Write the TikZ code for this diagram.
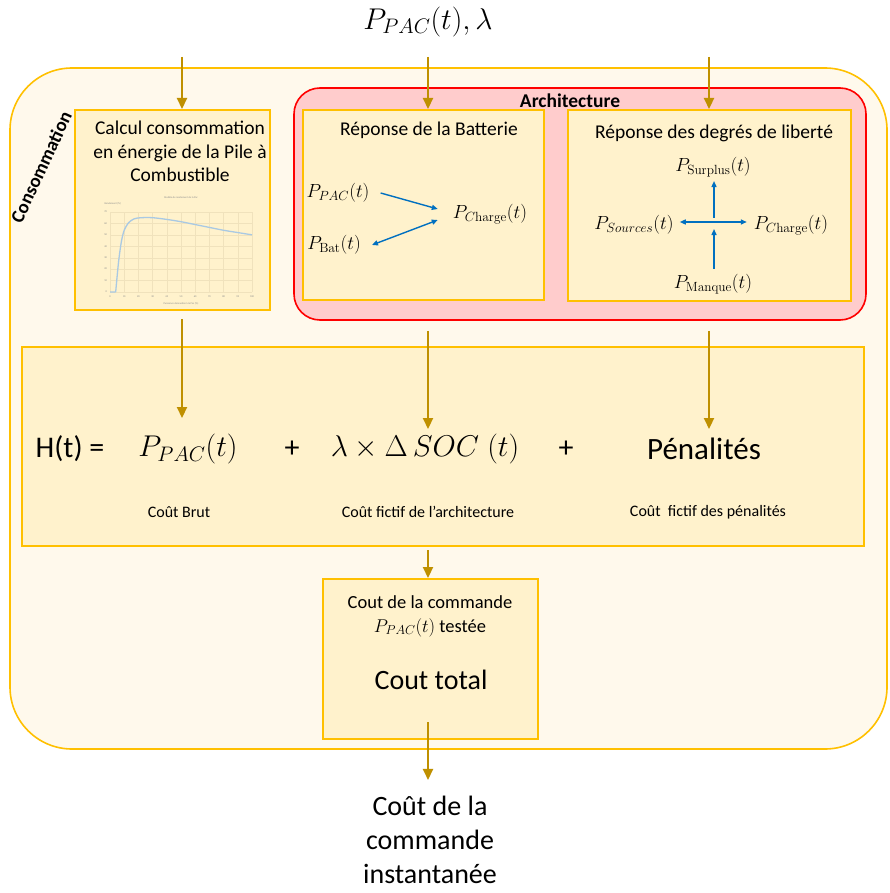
\RequirePackage{fix-cm}
\documentclass[tikz,border=0pt]{standalone}
\usepackage[no-math]{fontspec}
\setmainfont{Carlito}
\usetikzlibrary{positioning, arrows.meta, calc}
\definecolor{gold}{HTML}{FFC000}
\definecolor{flowc}{HTML}{BF9000}
\definecolor{cream}{HTML}{FFF9EC}
\definecolor{boxfill}{HTML}{FFF2CC}
\definecolor{archfill}{HTML}{FFCCCC}
\definecolor{archred}{HTML}{FF0000}
\definecolor{arrblue}{HTML}{0070C0}
\definecolor{curveb}{HTML}{A9C9E3}
\definecolor{gridc}{HTML}{F0E2BC}
\newcommand{\fs}[2]{\fontsize{#1}{#2}\selectfont}
\tikzset{
  % --- containers ---
  conso/.style   = {draw=gold, fill=cream, line width=1.6pt,
                    rounded corners=62pt, inner sep=0pt},
  archbox/.style = {draw=archred, fill=archfill, line width=1.6pt,
                    rounded corners=26pt, inner sep=0pt},
  block/.style   = {draw=gold, fill=boxfill, line width=2pt, inner sep=0pt},
  % --- texts ---
  title/.style   = {font=\fs{19.5}{23.5}, align=center, inner sep=0pt},
  mth/.style     = {font=\fs{19}{22}, inner sep=0pt},
  big/.style     = {font=\fs{30}{34}, inner sep=0pt},
  sub/.style     = {font=\fs{16}{18}, inner sep=0pt},
  tiny/.style    = {font=\fs{2.6}{3}, text=black!45, inner sep=0pt},
  % --- edges ---
  flow/.style    = {-{Triangle[length=11pt, width=10pt]}, line width=2.2pt, flowc},
  blu/.style     = {-{Triangle[length=6pt, width=5pt]}, line width=1.4pt, arrblue},
  blub/.style    = {{Triangle[length=6pt, width=5pt]}-{Triangle[length=6pt, width=5pt]},
                    line width=1.4pt, arrblue},
}

\begin{document}
\begin{tikzpicture}[x=1pt, y=-1pt]
  \useasboundingbox (0,0) rectangle (889,893);
  \fill[white] (0,0) rectangle (889,893);

  % ===================================================================
  %  CONTAINERS
  % ===================================================================
  \node[conso, minimum width=877pt, minimum height=681pt] (conso) at (448.5,408.5) {};
  \node[rotate=65, font=\bfseries\fs{19}{21}, inner sep=0pt] (consl) at (41,167) {Consommation};

  \node[archbox, minimum width=572pt, minimum height=232pt] (arch) at (580,204) {};
  \node[font=\bfseries\fs{19.5}{22}, inner sep=0pt] (archl) at (570,101) {Architecture};

  % --- blocks ---
  \node[block, minimum width=195pt, minimum height=200pt] (calc) at (172.5,210) {};
  \node[block, minimum width=241pt, minimum height=190pt] (bat)  at (423.5,205) {};
  \node[block, minimum width=283pt, minimum height=191pt] (dof)  at (709.5,205.5) {};
  \node[block, minimum width=842pt, minimum height=199pt] (hbox) at (443,446.5) {};
  \node[block, minimum width=215pt, minimum height=160pt] (cout) at (430.5,659) {};

  % ===================================================================
  %  CALCUL CONSOMMATION (titre + courbe de rendement)
  % ===================================================================
  \node[title] (calct) at (180,151.5) {Calcul consommation\\en énergie de la Pile à\\Combustible};

  \begin{scope}[shift={(110,292)}, x=1.42pt, y=1.143pt]
    \foreach \i in {0,...,10}
      \draw[gridc, line width=0.4pt] (\i*10,0) -- (\i*10,70);
    \foreach \j in {0,...,7}
      \draw[gridc, line width=0.4pt] (0,\j*10) -- (100,\j*10);
    \foreach \i in {0,10,...,100}
      \node[tiny] (xt\i) at (\i,-4) {\i};
    \foreach \j in {0,10,...,70}
      \node[tiny, anchor=east] (yt\j) at (-2,\j) {\j};
    \draw[curveb, line width=1.3pt] (0,0) -- (4,0)
      plot[smooth] coordinates {(4,0) (6,26) (8,44) (10,54) (13,60.5) (17,64) (22,65)
                                (30,65) (40,63.5) (50,61.5) (60,59) (70,56.5)
                                (80,54) (90,52) (100,50)};
    \node[tiny] (ptitle) at (50,83) {Modèle de rendement de la Pac};
    \node[tiny, anchor=west] (pylab) at (-4,77) {Rendement (\%)};
    \node[tiny] (pxlab) at (50,-10) {Puissance demandée à la Pac (\%)};
  \end{scope}

  % ===================================================================
  %  REPONSE DE LA BATTERIE
  % ===================================================================
  \node[title] (batt) at (429,130) {Réponse de la Batterie};
  \node[mth] (bpac) at (338,193) {$P_{PAC}(t)$};
  \node[mth] (bbat) at (334,245) {$P_{\mathrm{Bat}}(t)$};
  \node[mth] (bch)  at (490,214) {$P_{C\mathrm{harge}}(t)$};
  \draw[blu]  ([xshift=11pt]bpac.east) -- ([xshift=-15pt, yshift=5pt]bch.west);
  \draw[blub] ([xshift=11pt]bbat.east) -- ([xshift=-15pt, yshift=-6pt]bch.west);

  % ===================================================================
  %  REPONSE DES DEGRES DE LIBERTE
  % ===================================================================
  \node[title] (doft) at (714,133) {Réponse des degrés de liberté};
  \node[mth] (dsur) at (713,167) {$P_{\mathrm{Surplus}}(t)$};
  \node[mth] (dsrc) at (634,225) {$P_{Sources}(t)$};
  \node[mth] (dch)  at (791,225) {$P_{C\mathrm{harge}}(t)$};
  \node[mth] (dman) at (713,284) {$P_{\mathrm{Manque}}(t)$};
  \coordinate (xc) at (714,222);
  \draw[blub] (688,222 -| dsrc.east) ++(6,0) -- ([xshift=-7pt]xc -| dch.west);
  \draw[blu, shorten <=4pt] (xc) -- ([yshift=-4pt]xc |- dsur.south);
  \draw[blu, shorten >=7pt] ([yshift=5pt]xc |- dman.north) -- (xc);

  % ===================================================================
  %  FONCTION H(t)
  % ===================================================================
  \node[big] (hlab)  at (70,449)  {H(t) =};
  \node[big] (tpac)  at (188,449) {$P_{PAC}(t)$};
  \node[big] (plus1) at (292,449) {+};
  \node[big] (tsoc)  at (425,449) {$\lambda\times\Delta\,SOC\;(t)$};
  \node[big] (plus2) at (566,449) {+};
  \node[big, font=\fs{31}{34}] (tpen) at (704,449) {Pénalités};

  \node[sub] (sbrut) at (179,512) {Coût Brut};
  \node[sub] (sarch) at (428,512) {Coût fictif de l’architecture};
  \node[sub] (spen)  at (708,512) {Coût~ fictif des pénalités};

  % ===================================================================
  %  COUT TOTAL + SORTIE
  % ===================================================================
  \node[font=\fs{18.5}{24}, align=center, inner sep=0pt] (coutt) at (430,616)
       {Cout de la commande\\$P_{PAC}(t)$ testée};
  \node[font=\fs{28}{30}, inner sep=0pt] (coutl) at (431,680) {Cout total};

  \node[font=\fs{28}{34}, align=center, inner sep=0pt] (outl) at (430,840)
       {Coût de la\\commande\\instantanée};

  % --- entrée ---
  \node[big] (inp) at (428,22) {$P_{PAC}(t),\lambda$};

  % ===================================================================
  %  FLECHES
  % ===================================================================
  \coordinate (inA) at (182,57);
  \coordinate (inB) at (428,57);
  \coordinate (inC) at (709,57);
  \coordinate (hrow) at (0,418);
  \coordinate (hrowb) at (0,429);
  \coordinate (ctap) at (428,722);

  \draw[flow] (inA) -- (inA |- calc.north);
  \draw[flow] (inB) -- (inB |- bat.north);
  \draw[flow] (inC) -- (inC |- dof.north);

  \draw[flow, shorten <=8pt]  (inA |- calc.south) -- (inA |- hrow);
  \draw[flow, shorten <=10pt] (inB |- arch.south) -- (inB |- hrowb);
  \draw[flow, shorten <=10pt] (inC |- arch.south) -- (inC |- hrowb);

  \draw[flow, shorten <=3pt] (inB |- hbox.south) -- (inB |- cout.north);
  \draw[flow, shorten >=16pt] (ctap) -- (inB |- outl.north);

\end{tikzpicture}
\end{document}
